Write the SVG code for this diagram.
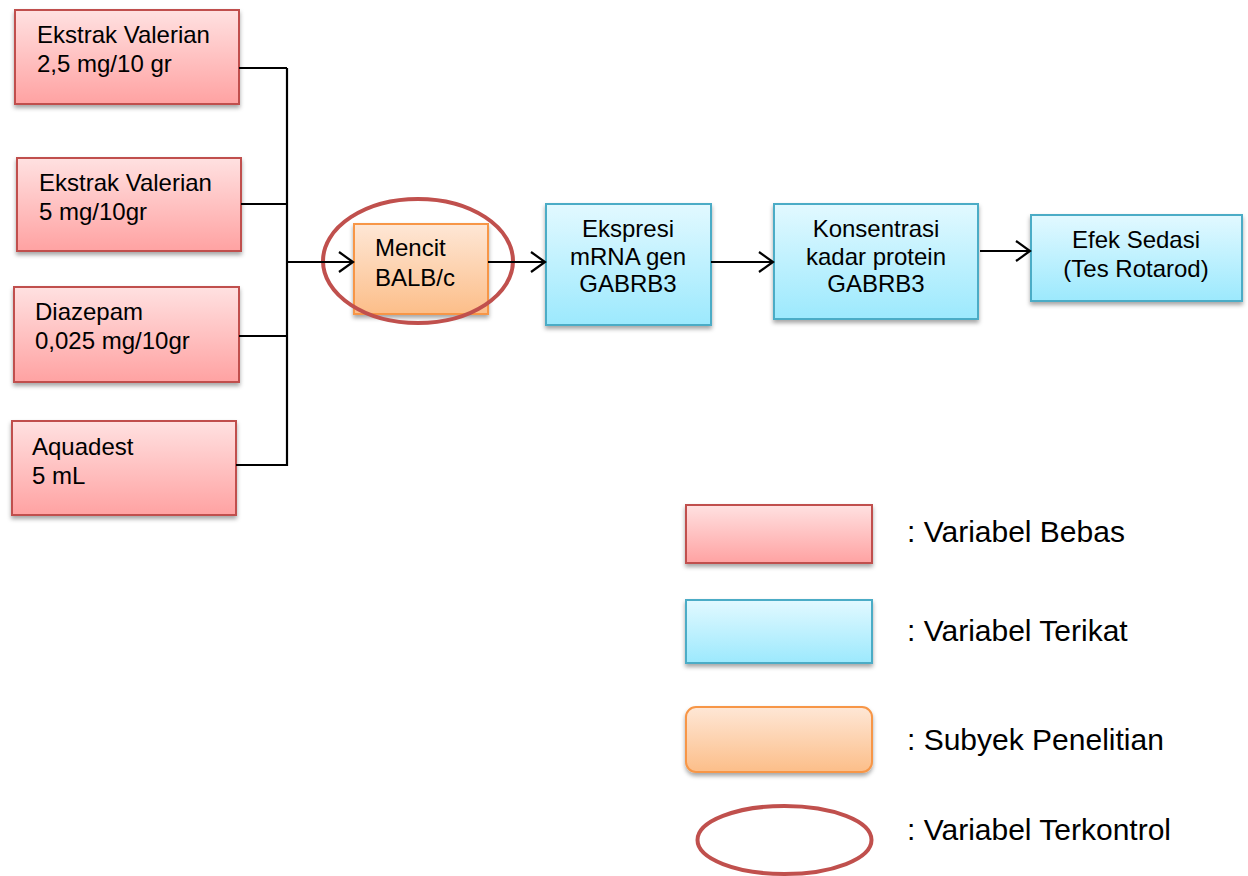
<svg xmlns="http://www.w3.org/2000/svg" width="1248" height="876" viewBox="0 0 1248 876">
  <defs>
    <linearGradient id="gRed" x1="0" y1="0" x2="0" y2="1">
      <stop offset="0" stop-color="#ffe1e1"/>
      <stop offset="1" stop-color="#ffa2a2"/>
    </linearGradient>
    <linearGradient id="gBlue" x1="0" y1="0" x2="0" y2="1">
      <stop offset="0" stop-color="#e2f9ff"/>
      <stop offset="1" stop-color="#9ce9fd"/>
    </linearGradient>
    <linearGradient id="gOrange" x1="0" y1="0" x2="0" y2="1">
      <stop offset="0" stop-color="#fee7d6"/>
      <stop offset="1" stop-color="#fcbe89"/>
    </linearGradient>
    <filter id="shadow" x="-10%" y="-10%" width="120%" height="130%">
      <feDropShadow dx="0" dy="3" stdDeviation="2" flood-color="#000" flood-opacity="0.35"/>
    </filter>
    <marker id="arrow" markerUnits="userSpaceOnUse" markerWidth="18" markerHeight="24" refX="15" refY="11" orient="auto">
      <path d="M1,1 L15,11 L1,21" fill="none" stroke="#000" stroke-width="2.2"/>
    </marker>
    <style>
      .red { fill: url(#gRed); stroke: #c0504d; stroke-width: 2; filter: url(#shadow); }
      .blue { fill: url(#gBlue); stroke: #4bacc6; stroke-width: 2; filter: url(#shadow); }
      .orange { fill: url(#gOrange); stroke: #f79646; stroke-width: 2; filter: url(#shadow); }
      .ring { fill: none; stroke: #c0504d; stroke-width: 4; }
      .lbl { font-family: "Liberation Sans", Arial, sans-serif; font-size: 24px; fill: #000; }
      .mid { text-anchor: middle; }
      .leg { font-family: "Liberation Sans", Arial, sans-serif; font-size: 30px; fill: #000; }
      .wire { fill: none; stroke: #000; stroke-width: 2.2; }
    </style>
  </defs>

  <!-- independent variables -->
  <g id="valerian-25">
    <rect class="red" x="15" y="10" width="224" height="94"/>
    <text class="lbl" x="37" y="43">Ekstrak Valerian</text>
    <text class="lbl" x="37" y="72">2,5 mg/10 gr</text>
  </g>
  <g id="valerian-5">
    <rect class="red" x="17" y="158" width="224" height="93"/>
    <text class="lbl" x="39" y="191">Ekstrak Valerian</text>
    <text class="lbl" x="39" y="220">5 mg/10gr</text>
  </g>
  <g id="diazepam">
    <rect class="red" x="14" y="287" width="225" height="95"/>
    <text class="lbl" x="35" y="320">Diazepam</text>
    <text class="lbl" x="35" y="349">0,025 mg/10gr</text>
  </g>
  <g id="aquadest">
    <rect class="red" x="12" y="421" width="224" height="94"/>
    <text class="lbl" x="32" y="455">Aquadest</text>
    <text class="lbl" x="32" y="484">5 mL</text>
  </g>

  <!-- research subject -->
  <g id="mencit">
    <rect class="orange" x="354" y="224" width="134" height="90"/>
    <text class="lbl" x="375" y="256">Mencit</text>
    <text class="lbl" x="375" y="286">BALB/c</text>
    <ellipse class="ring" cx="418" cy="261" rx="95" ry="62"/>
  </g>

  <!-- dependent variables -->
  <g id="ekspresi">
    <rect class="blue" x="546" y="204" width="165" height="121"/>
    <text class="lbl mid" x="628" y="237">Ekspresi</text>
    <text class="lbl mid" x="628" y="265">mRNA gen</text>
    <text class="lbl mid" x="628" y="292">GABRB3</text>
  </g>
  <g id="konsentrasi">
    <rect class="blue" x="774" y="204" width="204" height="115"/>
    <text class="lbl mid" x="876" y="237">Konsentrasi</text>
    <text class="lbl mid" x="876" y="265">kadar protein</text>
    <text class="lbl mid" x="876" y="292">GABRB3</text>
  </g>
  <g id="efek">
    <rect class="blue" x="1031" y="215" width="211" height="86"/>
    <text class="lbl mid" x="1136" y="248">Efek Sedasi</text>
    <text class="lbl mid" x="1136" y="277">(Tes Rotarod)</text>
  </g>

  <!-- connectors -->
  <g id="connectors">
    <path class="wire" d="M239,68 H287 M241,204 H287 M239,336 H287 M236,465 H288 M287,68 V466"/>
    <line class="wire" x1="287" y1="262" x2="353" y2="262" marker-end="url(#arrow)"/>
    <line class="wire" x1="488" y1="262" x2="545" y2="262" marker-end="url(#arrow)"/>
    <line class="wire" x1="711" y1="262" x2="773" y2="262" marker-end="url(#arrow)"/>
    <line class="wire" x1="980" y1="251" x2="1030" y2="251" marker-end="url(#arrow)"/>
  </g>

  <!-- legend -->
  <g id="legend-bebas">
    <rect class="red" x="686" y="505" width="186" height="58"/>
    <text class="leg" x="907" y="542">: Variabel Bebas</text>
  </g>
  <g id="legend-terikat">
    <rect class="blue" x="686" y="600" width="186" height="63"/>
    <text class="leg" x="907" y="641">: Variabel Terikat</text>
  </g>
  <g id="legend-subyek">
    <rect class="orange" x="686" y="707" width="186" height="65" rx="10"/>
    <text class="leg" x="907" y="750">: Subyek Penelitian</text>
  </g>
  <g id="legend-terkontrol">
    <ellipse class="ring" cx="784.5" cy="840" rx="87" ry="34"/>
    <text class="leg" x="907" y="840">: Variabel Terkontrol</text>
  </g>
</svg>
